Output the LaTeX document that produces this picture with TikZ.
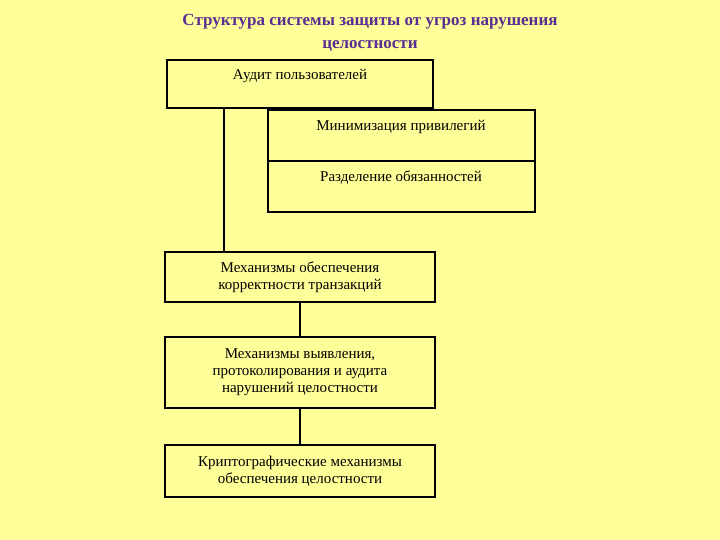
\documentclass[tikz,border=0pt]{standalone}
\usepackage{fontspec}
\setmainfont{Liberation Serif}
\definecolor{bg}{HTML}{FFFF99}
\definecolor{ttl}{HTML}{5A2D91}
\begin{document}
\begin{tikzpicture}[x=1pt,y=-1pt,
  bx/.style={draw=black,line width=1.5pt,fill=bg},
  tx/.style={font=\fontsize{15}{17}\selectfont,align=center,inner sep=0pt},
  ln/.style={draw=black,line width=2.2pt}]
\fill[bg] (0,0) rectangle (720,540);
\useasboundingbox (0,0) rectangle (720,540);
\node[font=\bfseries\fontsize{17}{23}\selectfont,text=ttl,align=center] (title) at (370,33) {Структура системы защиты от угроз нарушения\\целостности};
\path[bx] (167,60) rectangle (433,108);
\node[tx] (t1) at (300,76) {Аудит пользователей};
\path[bx] (268,110) rectangle (535,161);
\node[tx] (t2) at (401,127) {Минимизация привилегий};
\path[bx] (268,161) rectangle (535,212);
\node[tx] (t3) at (401,178) {Разделение обязанностей};
\node[bx,tx,minimum width=270,minimum height=50] (b4) at (300,277) {Механизмы обеспечения\\корректности транзакций};
\node[bx,tx,minimum width=270,minimum height=71] (b5) at (300,372.5) {Механизмы выявления,\\протоколирования и аудита\\нарушений целостности};
\node[bx,tx,minimum width=270,minimum height=52] (b6) at (300,471) {Криптографические механизмы\\обеспечения целостности};
\coordinate (top) at (224,109);
\draw[ln] (top) -- (top |- b4.north);
\draw[ln] (b4) -- (b5);
\draw[ln] (b5) -- (b6);
\end{tikzpicture}
\end{document}
